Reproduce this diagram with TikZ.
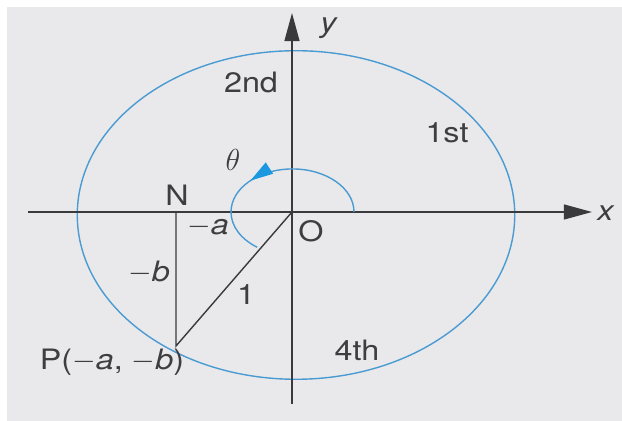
\documentclass[tikz,border=0pt]{standalone}
\usepackage{fontspec}
\setmainfont[FakeStretch=1.15]{TeX Gyre Heros}
\usetikzlibrary{arrows.meta,decorations.markings}
\definecolor{ucaxis}{HTML}{3A3A3C}
\definecolor{ucblue}{HTML}{4A9BD2}
\definecolor{uctip}{HTML}{1C98E0}
\definecolor{ucpaper}{HTML}{E9E9EB}
\definecolor{uctext}{HTML}{3E3E40}
\tikzset{
  axline/.style = {draw=ucaxis, line width=0.9pt,
                   -{Triangle[length=16pt,width=8.5pt]}},
  seg/.style    = {draw=ucaxis, line width=0.8pt},
  unit/.style   = {draw=ucblue, line width=0.8pt},
  angarc/.style = {draw=ucblue, line width=0.8pt, postaction={decorate},
                   decoration={markings, mark=at position 0.6 with
                   {\arrow{Triangle[length=13pt,width=7.5pt,color=uctip]}}}},
  lbl/.style    = {font=\fontsize{16}{18}\selectfont, text=uctext,
                   inner sep=1pt},
}
\newcommand{\mn}{\ensuremath{-}}

\begin{document}
\begin{tikzpicture}[x=0.02cm,y=-0.02cm]
  \fill[white] (0,0) rectangle (622,421);
  \fill[ucpaper] (7,7) rectangle (622,421);
  \useasboundingbox (0,0) rectangle (622,421);
  \coordinate (O)  at (292,212);
  \coordinate (C)  at (296,215);
  \coordinate (xl) at (28,212);
  \coordinate (xr) at (592,212);
  \coordinate (yb) at (292,404);
  \coordinate (yt) at (292,13);
  \coordinate (N)  at (176,212);
  \coordinate (P)  at (176,346);
  \coordinate (a0) at (354,212);
  \draw[unit] (C) ellipse [x radius=124.5pt, y radius=93.5pt];
  \draw[axline] (xl) -- (xr);
  \draw[axline] (yb) -- (yt);
  \draw[seg] (N) -- (P) -- (O);
  \draw[angarc] (a0) arc[start angle=0, end angle=235,
                         x radius=35pt, y radius=24.5pt];
  \node[lbl] (xlab)  at (606,213) {\textit{x}};
  \node[lbl] (ylab)  at (329,28)  {\textit{y}};
  \node[lbl] (Nlab)  at (177,195) {N};
  \node[lbl] (Olab)  at (311,231) {O};
  \node[lbl] (alab)  at (208,227) {\mn\textit{a}};
  \node[lbl] (blab)  at (149,273) {\mn\textit{b}};
  \node[lbl] (rlab)  at (246,295) {1};
  \node[lbl] (Plab)  at (112,362) {P(\mn\textit{a}, \mn\textit{b})};
  \node[lbl] (q2)    at (251,82)  {2nd};
  \node[lbl] (q1)    at (447,133) {1st};
  \node[lbl] (q4)    at (357,350) {4th};
  \node[lbl] (thlab) at (233,160) {$\theta$};
\end{tikzpicture}
\end{document}
